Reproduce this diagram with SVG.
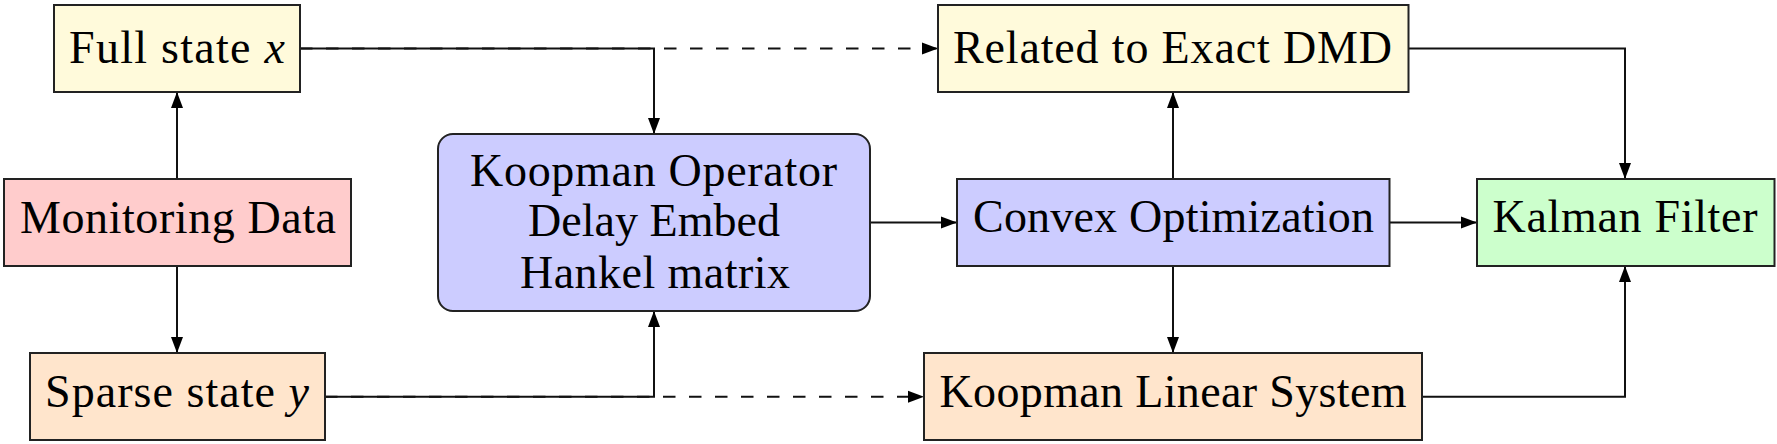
<svg xmlns="http://www.w3.org/2000/svg" width="1777" height="444" viewBox="0 0 1777 444">
<style>
.box{stroke:#222;stroke-width:2}
.lbl{font-family:"Liberation Serif","DejaVu Serif",serif;font-size:46px;fill:#000;text-anchor:middle}
.it{font-style:italic}
.con{fill:none;stroke:#111;stroke-width:2}
.dash{stroke-dasharray:12.5 13.5}
</style>
<defs>
<marker id="ah" markerUnits="userSpaceOnUse" markerWidth="17" markerHeight="13" refX="16" refY="6" orient="auto" overflow="visible">
<path d="M0,0 L16,6 L0,12 Z" fill="#000"/>
</marker>
</defs>
<rect width="1777" height="444" fill="#fff"/>
<g id="connectors">
<path class="con dash" d="M300,48.5 H938" marker-end="url(#ah)"/>
<path class="con dash" d="M325,396.7 H924" marker-end="url(#ah)"/>
<path class="con" d="M177,179 V92" marker-end="url(#ah)"/>
<path class="con" d="M177,266 V353" marker-end="url(#ah)"/>
<path class="con" d="M300,48.5 H654 V134" marker-end="url(#ah)"/>
<path class="con" d="M325,396.7 H654 V311" marker-end="url(#ah)"/>
<path class="con" d="M870,222.5 H957" marker-end="url(#ah)"/>
<path class="con" d="M1173,179 V92" marker-end="url(#ah)"/>
<path class="con" d="M1173,266 V353" marker-end="url(#ah)"/>
<path class="con" d="M1389.5,222.5 H1477" marker-end="url(#ah)"/>
<path class="con" d="M1408.5,48.5 H1625 V179" marker-end="url(#ah)"/>
<path class="con" d="M1422,396.7 H1625 V266" marker-end="url(#ah)"/>
</g>
<g id="full-state">
<rect class="box" x="54" y="5" width="246" height="87" fill="#FFFADB"/>
<text class="lbl" x="177" y="63.3" textLength="216">Full state <tspan class="it">x</tspan></text>
</g>
<g id="monitoring-data">
<rect class="box" x="4" y="179" width="347" height="87" fill="#FFCCCC"/>
<text class="lbl" x="178" y="232.7" textLength="316">Monitoring Data</text>
</g>
<g id="sparse-state">
<rect class="box" x="30" y="353" width="295" height="87" fill="#FFE5CC"/>
<text class="lbl" x="177" y="406.7" textLength="264">Sparse state <tspan class="it">y</tspan></text>
</g>
<g id="koopman-operator">
<rect class="box" x="438" y="134" width="432" height="177" rx="15" ry="15" fill="#CCCCFF"/>
<text class="lbl" x="653.5" y="185.7" textLength="367">Koopman Operator</text>
<text class="lbl" x="654" y="236" textLength="252">Delay Embed</text>
<text class="lbl" x="655" y="288.3" textLength="270">Hankel matrix</text>
</g>
<g id="related-dmd">
<rect class="box" x="938" y="5" width="470.5" height="87" fill="#FFFADB"/>
<text class="lbl" x="1172.5" y="63.3" textLength="439">Related to Exact DMD</text>
</g>
<g id="convex-optimization">
<rect class="box" x="957" y="179" width="432.5" height="87" fill="#CCCCFF"/>
<text class="lbl" x="1173.5" y="232.4" textLength="401">Convex Optimization</text>
</g>
<g id="kalman-filter">
<rect class="box" x="1477" y="179" width="297.5" height="87" fill="#CCFFCC"/>
<text class="lbl" x="1625" y="232.4" textLength="265">Kalman Filter</text>
</g>
<g id="koopman-linear-system">
<rect class="box" x="924" y="353" width="498" height="87" fill="#FFE5CC"/>
<text class="lbl" x="1173" y="406.7" textLength="467">Koopman Linear System</text>
</g>
</svg>
